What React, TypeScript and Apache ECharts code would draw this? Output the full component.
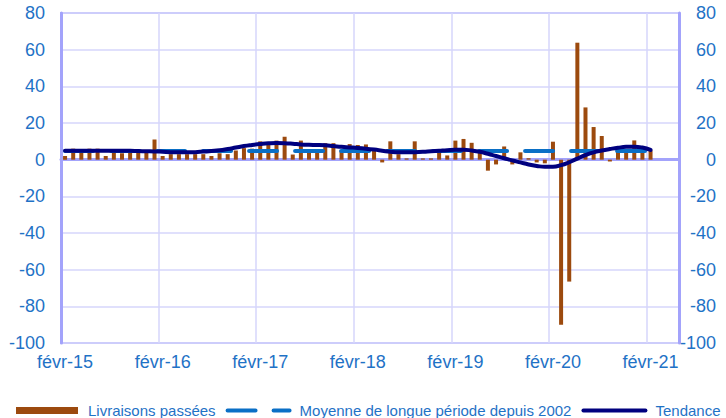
import React, { useEffect, useRef } from "react";
import * as echarts from "echarts";

// Month names used for category labels
const monthNames = ["janv", "févr", "mars", "avr", "mai", "juin", "juil", "août", "sept", "oct", "nov", "déc"];
// Axis covers Feb 2015 .. May 2021 (76 months); data run Feb 2015 .. Feb 2021
const startMonthIndex = 1; // févr
const startYear = 15;
const monthCount = 76;
const categories: string[] = [];
for (let k = 0; k < monthCount; k++) {
  const m = (startMonthIndex + k) % 12;
  const y = startYear + Math.floor((startMonthIndex + k) / 12);
  categories.push(`${monthNames[m]}-${y}`);
}

// Livraisons passées (monthly balance of opinion)
const livraisons = [
  2, 6, 4, 6, 6, 2, 4, 3.5, 4, 4, 4, 11,
  2, 3, 3, 3, 3, 3, 2, 3.5, 3, 5, 6.3, 6,
  10, 8.5, 10.4, 12.5, 2.8, 10.4, 5, 5, 9, 9, 5, 8.5,
  8, 8.3, 5, -1.5, 10, 3, 0.7, 10, 0.7, 0.7, 4, 2.3,
  10.4, 11.3, 9.2, 3.8, -6, -2.6, 7.2, -2.6, 4, 0.8, -1.5, -2,
  9.8, -90, -66.5, 63.8, 28.5, 17.8, 12.9, -1, 6, 5, 10.5, 5.5,
  5,
];

// Tendance
const tendance = [
  4.8, 4.8, 4.8, 4.8, 4.8, 4.8, 4.8, 4.8, 4.8, 4.7, 4.6, 4.5,
  4.3, 4.1, 4.0, 4.0, 4.1, 4.4, 4.7, 5.1, 5.8, 6.6, 7.4, 8.0,
  8.5, 8.9, 9.1, 9.0, 8.7, 8.3, 8.1, 8.0, 7.8, 7.4, 7.0, 6.7,
  6.4, 6.0, 5.5, 4.9, 4.3, 4.0, 4.0, 4.1, 4.3, 4.6, 4.9, 5.2,
  5.4, 5.4, 5.0, 4.3, 3.2, 2.0, 0.8, -0.4, -1.5, -2.6, -3.4, -3.9,
  -3.9, -3.0, -1.4, 0.6, 2.5, 4.0, 5.0, 5.8, 6.5, 7.0, 7.1, 6.6,
  5.3,
];

// Moyenne de longue période depuis 2002 (constant long-term mean)
const moyenneValue = 4.7;
const moyenne = livraisons.map(() => moyenneValue);

const yTicks = { min: -100, max: 80, interval: 20 };

const BLUE_TEXT = "#1f72c6";
const FONT = "'Liberation Sans', Arial, sans-serif";

export default function App() {
  const ref = useRef<HTMLDivElement>(null);
  useEffect(() => {
    if (!ref.current) return;
    const chart = echarts.init(ref.current, undefined, { renderer: "svg" });
    const gridLine = { color: "#d6d6fb", width: 1.5 };
    const axisLine = { show: true, lineStyle: { color: "#a3a3fb", width: 3 } };
    chart.setOption({
      animation: false,
      backgroundColor: "#ffffff",
      textStyle: { fontFamily: FONT },
      grid: {
        left: 61, right: 47, top: 13, bottom: 75,
        show: true, borderColor: "#b4b4fb", borderWidth: 2,
      },
      legend: {
        left: 11, top: 398, width: 760,
        itemWidth: 62, itemHeight: 7, itemGap: 10,
        textStyle: { color: BLUE_TEXT, fontSize: 15, fontFamily: FONT, padding: [0, 0, 0, 5] },
        data: [
          { name: "Livraisons passées", icon: "rect" },
          {
            name: "Moyenne de longue période depuis 2002",
            itemStyle: { opacity: 0 },
            lineStyle: { width: 4, type: [28, 18], cap: "round" },
          },
          { name: "Tendance", itemStyle: { opacity: 0 }, lineStyle: { width: 4, cap: "round" } },
        ],
      },
      xAxis: {
        type: "category",
        data: categories,
        boundaryGap: true,
        axisLine,
        axisTick: { show: false, interval: 11 },
        axisLabel: { interval: 11, color: BLUE_TEXT, fontSize: 18, margin: 10, fontFamily: FONT },
        splitLine: { show: true, interval: 11, lineStyle: gridLine },
      },
      yAxis: [
        {
          type: "value", ...yTicks, position: "left",
          axisLine, axisTick: { show: false },
          axisLabel: { color: BLUE_TEXT, fontSize: 18, margin: 16, fontFamily: FONT },
          splitLine: { show: true, lineStyle: gridLine },
        },
        {
          type: "value", ...yTicks, position: "right",
          axisLine, axisTick: { show: false },
          axisLabel: { color: BLUE_TEXT, fontSize: 18, margin: 37, align: "right", fontFamily: FONT },
          splitLine: { show: false },
        },
      ],
      series: [
        {
          name: "Livraisons passées",
          type: "bar",
          data: livraisons,
          barWidth: 4,
          itemStyle: { color: "#9c4a0e" },
        },
        {
          name: "Moyenne de longue période depuis 2002",
          type: "line",
          data: moyenne,
          symbol: "none",
          lineStyle: { color: "#0a6fc6", width: 4, type: [28, 18], cap: "round" },
          itemStyle: { color: "#0a6fc6" },
        },
        {
          name: "Tendance",
          type: "line",
          data: tendance,
          symbol: "none",
          smooth: true,
          lineStyle: { color: "#00007f", width: 4, cap: "round" },
          itemStyle: { color: "#00007f" },
        },
      ],
    });
    return () => chart.dispose();
  }, []);
  return (
    <div
      ref={ref}
      style={{ position: "fixed", left: 0, top: 0, width: 726, height: 418 }}
    />
  );
}
